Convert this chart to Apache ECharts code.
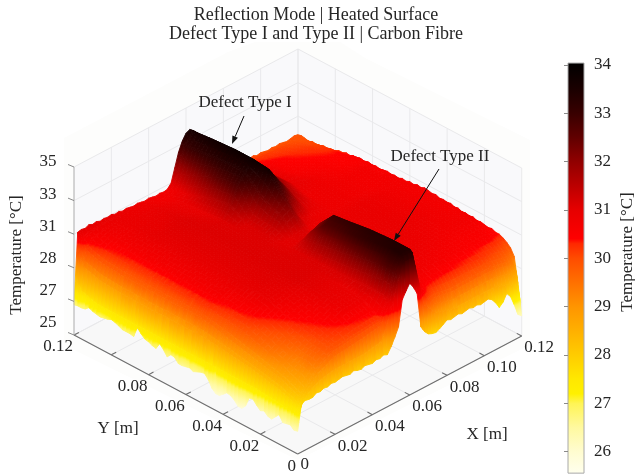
<!DOCTYPE html>
<html>
<head>
<meta charset="utf-8">
<style>html,body{margin:0;padding:0;background:#fff}#c{width:635px;height:474px}</style>
<script src="https://cdn.jsdelivr.net/npm/echarts@6/dist/echarts.min.js"></script>
</head>
<body>
<div id="c"></div>
<script>
// ---- axis tick values and labels
const spanX = 0.12, spanY = 0.12, zBase = 25;
const planarTicks = [0, 0.02, 0.04, 0.06, 0.08, 0.10, 0.12];
const xTickLabels = ['0', '0.02', '0.04', '0.06', '0.08', '0.10', '0.12'];
const yTickLabels = ['0', '0.02', '0.04', '0.06', '0.08', '', '0.12'];
const zTicks = [25, 27, 29, 31, 33, 35];
const zTickLabels = ['25', '27', '28', '31', '33', '35'];

// ---- sample positions of the height field (fractions of the 0.12 m span)
const xSamples = [0, .005, .012, .025, .05, .1, .17, .3, .38, .42, .45, .48, .52, .56, .62, .7, .78, .88, .95, .98, .995, 1];
const ySamples = [0, .005, .01, .02, .05, .1, .2, .3, .36, .42, .46, .5, .55, .6, .65, .72, .8, .9, .97, 1];

// ---- temperature, one row per ySamples entry
const row00 = [26.4,26.9,27.2,27.6,28,28,28.1,28.1,28.1,28.5,30.5,31.6,31.5,29,28.1,28.1,28.2,28.2,27.8,27.6,26.8,26.2];
const row01 = [26.5,27,27.4,27.8,28.2,28.6,28.8,28.8,29,30.5,32,33,33,30,29,28.7,28.7,28.7,28.4,28,27.5,27];
const row02 = [26.6,27.1,27.5,28,28.4,29,29.5,29.7,29.9,31,32.6,33.3,33.3,30.6,29.5,29.2,29.2,29.2,29,28.6,28,27.8];
const row03 = [26.6,27.2,27.7,28.1,28.5,29.2,29.9,30.1,30.2,31.2,32.8,33.4,33.4,30.8,30,29.8,29.8,29.8,29.6,29.3,28.8,28.5];
const row04 = [26.7,27.3,27.9,28.3,28.7,29.4,30,30.4,30.5,31.3,32.8,33.4,33.4,30.9,30.5,30.4,30.3,30.2,30,29.9,29.7,29.9];
const row05 = [26.7,27.4,28.1,28.6,29,29.4,30.1,30.8,30.9,31.3,32.5,33.3,33.4,31,30.8,30.7,30.6,30.5,30.5,30.4,30.4,30.4];
const row06 = [26.7,27.5,28.4,28.9,29.5,29.9,30.4,31,31,31.2,32.2,33.1,33.3,31,30.9,30.9,30.8,30.7,30.7,30.7,30.6,30.6];
const row07 = [26.7,27.5,28.6,29.2,29.9,30.4,30.9,31.1,31.1,31.15,31.9,32.8,33.1,31,30.9,30.9,30.9,30.8,30.7,30.7,30.7,30.7];
const row08 = [26.7,27.5,28.7,29.4,30,30.5,31,31.1,31.1,31.15,31.8,32.7,33,31,30.9,30.9,30.9,30.8,30.7,30.7,30.7,30.7];
const row09 = [26.8,27.5,28.8,29.6,30.1,30.6,31,31.1,31.1,31.1,31.4,31.9,32.1,30.9,30.9,30.9,30.9,30.8,30.7,30.7,30.7,30.7];
const row10 = [26.9,27.5,28.8,29.7,30.2,30.7,31,31.1,31.1,31.05,31.05,31.1,31.1,30.9,30.9,30.9,30.9,30.8,30.7,30.7,30.7,30.7];
const row11 = [26.9,27.5,28.8,29.7,30.2,30.7,31,31.1,31.1,31.05,31.05,31.1,31.2,30.9,30.9,30.9,30.9,30.8,30.7,30.7,30.6,30.6];
const row12 = [26.9,27.5,28.8,29.7,30.2,30.7,31,31.1,31.1,31.15,31.35,31.8,32.1,31.2,30.9,30.8,30.8,30.7,30.7,30.7,30.6,30.6];
const row13 = [26.9,27.5,28.8,29.7,30.2,30.7,31,31.1,31.1,31.15,31.4,32,32.8,32.2,31.2,30.8,30.8,30.7,30.7,30.6,30.6,30.6];
const row14 = [26.9,27.5,28.8,29.7,30.2,30.7,31,31.1,31.1,31.15,31.5,32.4,33.7,32.8,31.6,30.8,30.8,30.7,30.7,30.6,30.6,30.6];
const row15 = [26.9,27.5,28.8,29.7,30.2,30.7,31,31.1,31.1,31.8,32.8,33.3,33.8,33,32,31,30.8,30.6,30.5,30.5,30.5,30.4];
const row16 = [26.8,27.5,28.8,29.7,30.2,30.7,31,31.1,31,31.6,32.6,33.3,33.8,33,32,31,30.6,30.5,30.4,30.4,30.3,30.3];
const row17 = [26.8,27.5,28.9,29.8,30.3,30.7,30.9,31,30.9,31.1,32,33.1,33.7,32.9,31.9,30.8,30.5,30.3,30.2,30.1,30.1,30.1];
const row18 = [26.8,27.8,29.2,30.1,30.6,30.8,30.9,30.85,30.7,30.8,31.6,33,33.6,32.9,31.8,30.5,30.2,30.1,30,29.95,29.95,29.95];
const row19 = [26.8,28.5,30.5,31,31,31,31,30.8,30.7,30.8,31.5,33,33.6,33,31.8,30.4,30,29.9,29.9,29.9,29.9,29.9];
const tempRows = [row00,row01,row02,row03,row04,row05,row06,row07,row08,row09,row10,row11,row12,row13,row14,row15,row16,row17,row18,row19];

// ---- jagged outer edges read at 61 equal steps along each side
const edgeX0 = [26.35,26.3,26.5,26.45,26.4,26.75,26.5,26.25,26.3,26.5,26.4,26.6,26.85,26.8,26.2,25.95,25.95,26.2,26.35,26.4,26.2,26.0,26.0,26.2,26.6,26.85,26.8,26.7,26.6,26.7,26.65,26.6,26.6,26.85,26.9,26.65,26.95,27.2,26.8,26.85,26.95,27.0,27.2,27.45,26.8,26.85,26.85,26.85,26.95,27.05,27.1,27.0,26.95,26.9,26.95,27.0,27.1,26.9,26.85,26.85,26.8];
const edgeY0 = [26.4,27.85,27.95,27.9,27.9,28.05,28.0,28.1,28.05,28.15,28.1,28.15,28.2,28.15,28.1,28.2,28.1,28.05,28.15,28.1,28.05,28.15,28.1,28.2,28.1,28.45,28.9,29.4,30.9,31.3,31.65,31.3,30.8,28.7,28.3,28.05,27.95,27.9,28.0,28.15,28.3,28.2,28.25,28.3,28.2,28.25,28.3,28.2,28.25,28.15,28.2,28.25,28.1,27.8,27.4,27.6,28.0,27.7,27.1,26.4,26.2];
const edgeX1 = [26.2,28.0,29.5,29.9,30.1,30.25,30.35,30.35,30.45,30.4,30.45,30.5,30.45,30.55,30.5,30.55,30.5,30.6,30.55,30.65,30.6,30.65,30.6,30.7,30.65,30.7,30.75,30.65,30.7,30.6,30.65,30.55,30.6,30.5,30.55,30.5,30.55,30.5,30.45,30.5,30.45,30.5,30.4,30.45,30.4,30.4,30.3,30.35,30.25,30.25,30.1,30.1,30.0,30.05,29.95,29.9,29.95,29.85,29.9,29.95,29.9];
const edgeY1 = [26.8,31.0,31.05,31.0,31.1,31.0,31.05,30.95,31.0,30.95,31.0,30.9,30.95,30.85,30.9,30.85,30.8,30.85,30.8,30.75,30.8,30.75,30.7,30.75,30.7,30.75,31.0,31.8,32.6,33.15,33.5,33.6,33.4,33.0,32.7,32.4,32.0,31.7,31.4,31.1,30.8,30.6,30.4,30.3,30.2,30.15,30.1,30.0,30.05,29.95,30.0,29.95,29.9,29.95,29.9,29.95,29.9,29.85,29.9,29.95,29.9];

// ---- colour scale
const colorStops = [
  [25.55,[255,255,238]],[26,[255,252,208]],[26.5,[255,249,160]],[27,[255,244,85]],[27.2,[255,240,0]],[27.5,[255,232,0]],
  [28,[255,204,0]],[28.5,[255,176,0]],[29,[255,149,0]],[29.5,[255,112,0]],[30,[255,76,0]],[30.3,[255,40,0]],
  [30.4,[255,0,0]],[31,[230,0,0]],[31.5,[187,0,0]],[32,[144,0,0]],[32.5,[96,0,0]],[33,[56,0,0]],[33.5,[26,0,0]],[34.04,[0,0,0]]
];
function tempColor(t){
  const s=colorStops;
  if(t<=s[0][0]) return 'rgb('+s[0][1].join(',')+')';
  for(let i=1;i<s.length;i++){
    if(t<=s[i][0]){
      const f=(t-s[i-1][0])/(s[i][0]-s[i-1][0]);
      const c=s[i-1][1].map((a,k)=>Math.round(a+(s[i][1][k]-a)*f));
      return 'rgb('+c.join(',')+')';
    }
  }
  return 'rgb(0,0,0)';
}

// ---- oblique 3D projection onto the hidden page-sized cartesian axes
function project(u,v,z){
  return [297.7+224*u-223.7*v, 454-118*u-119*v-16.8*(z-zBase)];
}
function locate(list,t){
  let i=0; while(i<list.length-2 && t>list[i+1]) i++;
  return [i,(t-list[i])/(list[i+1]-list[i])];
}
function sampled(u,v){
  const [i,a]=locate(xSamples,u),[j,b]=locate(ySamples,v);
  const r0=tempRows[j],r1=tempRows[j+1];
  return (r0[i]*(1-a)+r0[i+1]*a)*(1-b)+(r1[i]*(1-a)+r1[i+1]*a)*b;
}
function edgeAt(arr,t){
  const p=t*60,i=Math.min(59,Math.floor(p));
  return arr[i]*(1-(p-i))+arr[i+1]*(p-i);
}
function surfaceZ(u,v){
  let z=sampled(u,v);
  if(u<.005) z+=(edgeAt(edgeX0,v)-sampled(0,v))*(1-u/.005);
  if(v<.005) z+=(edgeAt(edgeY0,u)-sampled(u,0))*(1-v/.005);
  if(u>.988) z+=(edgeAt(edgeX1,v)-sampled(1,v))*((u-.988)/.012);
  if(v>.988) z+=(edgeAt(edgeY1,u)-sampled(u,1))*((v-.988)/.012);
  return z;
}
// shading mesh: the read samples plus the equal edge steps, drawn far to near
function meshLine(list,extra){
  const s=new Set(list.concat(extra).map(t=>+t.toFixed(5)));
  for(let k=0;k<=60;k++) s.add(+(k/60).toFixed(5));
  return Array.from(s).sort((a,b)=>a-b);
}
const meshU=meshLine(xSamples,[.988]), meshV=meshLine(ySamples,[.988]);
const meshZ=meshV.map(v=>meshU.map(u=>surfaceZ(u,v)));
const cells=[];
for(let j=meshV.length-2;j>=0;j--) for(let i=meshU.length-2;i>=0;i--) cells.push([i,j]);

const SERIF='"Liberation Serif", serif';
const FS=17;
const INK='#262626';
const label=(text,x,y,o)=>Object.assign({text,x,y,size:FS,align:'center',rot:0},o||{});

const labels=[
  label('Reflection Mode | Heated Surface',316,15,{size:18}),
  label('Defect Type I and Type II | Carbon Fibre',316,34,{size:18}),
  label('Defect Type I',245,103,{size:17}),
  label('Defect Type II',440,157,{size:17}),
  label('Y [m]',118,429,{size:17}),
  label('X [m]',487,435,{size:17}),
  label('Temperature [\u00b0C]',17,255,{size:17,rot:Math.PI/2}),
  label('Temperature [\u00b0C]',628,252,{size:17,rot:Math.PI/2})
];
zTickLabels.forEach((t,i)=>labels.push(label(t,48,323-32.2*i)));
planarTicks.forEach((t,i)=>{
  const f=t/spanY, a=project(0,f,zBase), b=project(f,0,zBase);
  const yo=i===0?[-6,13]:[-16,12], xo=i===0?[7,11]:[17.5,12];
  if(yTickLabels[i]) labels.push(label(yTickLabels[i],a[0]+yo[0],a[1]+yo[1]));
  labels.push(label(xTickLabels[i],b[0]+xo[0],b[1]+xo[1]));
});

// box lines as [u0,v0,z0,u1,v1,z1]
const gridLines=[], axisLines=[], wallTop=35;
planarTicks.forEach(t=>{
  const f=t/spanX;
  gridLines.push([f,0,25,f,1,25],[0,f,25,1,f,25],[f,1,25,f,1,wallTop],[1,f,25,1,f,wallTop]);
  if(t>0){
    axisLines.push([f,0,25,f,.022,25],[0,f,25,.022,f,25]);
  }
});
zTicks.forEach(z=>{
  gridLines.push([0,1,z,1,1,z],[1,0,z,1,1,z]);
});
axisLines.push([0,0,25,1,0,25],[0,0,25,0,1,25]);

function coordPts(api,pts){return pts.map(p=>api.coord(p));}

const barLow=25.55, barHigh=34.04;
const barGradient=new echarts.graphic.LinearGradient(0,1,0,0,colorStops.map(s=>({
  offset:(s[0]-barLow)/(barHigh-barLow),color:'rgb('+s[1].join(',')+')'
})));

// colour stops for a gradient running from temperature a to temperature b
function gradientStops(a,b){
  const out=[{offset:0,color:tempColor(a)}];
  colorStops.forEach(s=>{ if(s[0]>a&&s[0]<b) out.push({offset:(s[0]-a)/(b-a),color:tempColor(s[0])}); });
  out.push({offset:1,color:tempColor(b)});
  return out;
}

const option={
  animation:false,
  backgroundColor:'#fff',
  grid:[
    {left:0,top:0,right:0,bottom:0,show:false,outerBoundsMode:'none'},
    {left:568,top:65,width:16,height:434.7,show:false,outerBoundsMode:'none'}
  ],
  xAxis:[
    {gridIndex:0,type:'value',min:0,max:635,show:false},
    {gridIndex:1,type:'value',min:0,max:1,show:false}
  ],
  yAxis:[
    {gridIndex:0,type:'value',min:0,max:474,inverse:true,show:false},
    {gridIndex:1,type:'value',min:25,max:34,interval:1,position:'right',z:10,
     splitLine:{show:false},axisLine:{show:false},
     axisTick:{show:true,inside:true,length:4,lineStyle:{color:'#8a8a8a'}},
     axisLabel:{margin:10,color:INK,fontFamily:SERIF,fontSize:FS,hideOverlap:false}}
  ],
  series:[
    { // walls, floor and faint grid of the 3D box
      type:'custom',coordinateSystem:'cartesian2d',xAxisIndex:0,yAxisIndex:0,silent:true,clip:false,z:1,
      data:[[0]],
      renderItem(p,api){
        const kids=[];
        kids.push({type:'polygon',shape:{points:coordPts(api,[[64,138],[228,52],[255,42],[340,42],[365,58],[530,140],[530,345],[297.7,460],[64,345]])},style:{fill:'#fdfdfc'}});
        const tl=project(0,1,wallTop),tr=project(1,0,wallTop),tb=project(1,1,wallTop);
        const bl=project(0,1,25),br=project(1,0,25),bb=project(1,1,25),bf=project(0,0,25);
        kids.push({type:'polygon',shape:{points:coordPts(api,[tl,tb,bb,bl])},style:{fill:'#f9f9fb'}});
        kids.push({type:'polygon',shape:{points:coordPts(api,[tb,tr,br,bb])},style:{fill:'#f9f9fb'}});
        kids.push({type:'polygon',shape:{points:coordPts(api,[bf,br,bb,bl])},style:{fill:'#f8f8f8'}});
        gridLines.forEach(l=>{
          const a=api.coord(project(l[0],l[1],l[2])),b=api.coord(project(l[3],l[4],l[5]));
          kids.push({type:'line',shape:{x1:a[0],y1:a[1],x2:b[0],y2:b[1]},style:{stroke:'#e9e9eb',lineWidth:1}});
        });
        return {type:'group',children:kids};
      }
    },
    { // the temperature surface: every cell shaded from its coolest to its hottest corner
      type:'custom',coordinateSystem:'cartesian2d',xAxisIndex:0,yAxisIndex:0,silent:true,clip:false,z:2,progressive:0,
      data:cells,
      renderItem(p,api){
        const i=api.value(0),j=api.value(1);
        const corners=[[i,j],[i+1,j],[i+1,j+1],[i,j+1]].map(c=>{
          const z=meshZ[c[1]][c[0]];
          return {z,pt:api.coord(project(meshU[c[0]],meshV[c[1]],z))};
        });
        let lo=corners[0],hi=corners[0];
        corners.forEach(c=>{ if(c.z<lo.z) lo=c; if(c.z>hi.z) hi=c; });
        const pts=corners.map(c=>c.pt);
        let fill;
        if(hi.z-lo.z<.03||(Math.abs(hi.pt[0]-lo.pt[0])+Math.abs(hi.pt[1]-lo.pt[1]))<.5){
          fill=tempColor((hi.z+lo.z)/2);
        }else{
          fill=new echarts.graphic.LinearGradient(lo.pt[0],lo.pt[1],hi.pt[0],hi.pt[1],gradientStops(lo.z,hi.z),true);
        }
        return {type:'polygon',shape:{points:pts},style:{fill,stroke:fill,lineWidth:.9}};
      }
    },
    { // axes, ticks, annotation arrows and all the text
      type:'custom',coordinateSystem:'cartesian2d',xAxisIndex:0,yAxisIndex:0,silent:true,clip:false,z:3,
      data:[[0]],
      renderItem(p,api){
        const kids=[];
        axisLines.forEach(l=>{
          const a=api.coord(project(l[0],l[1],l[2])),b=api.coord(project(l[3],l[4],l[5]));
          kids.push({type:'line',shape:{x1:a[0],y1:a[1],x2:b[0],y2:b[1]},style:{stroke:'#6e6e6e',lineWidth:1.1}});
        });
        const zb=api.coord(project(0,1,25)),zt=api.coord(project(0,1,wallTop));
        kids.push({type:'line',shape:{x1:zb[0],y1:zb[1],x2:zt[0],y2:zt[1]},style:{stroke:'#b4b4b4',lineWidth:1}});
        zTicks.forEach(z=>{
          const a=api.coord(project(0,1,z));
          kids.push({type:'line',shape:{x1:a[0],y1:a[1],x2:a[0]-6,y2:a[1]-2.5},style:{stroke:'#8a8a8a',lineWidth:1}});
        });
        [[244,116,232,144],[439,169,394,241]].forEach(r=>{
          const a=api.coord([r[0],r[1]]),b=api.coord([r[2],r[3]]);
          const ang=Math.atan2(b[1]-a[1],b[0]-a[0]),L=8,W=3;
          const bx=b[0]-L*Math.cos(ang),by=b[1]-L*Math.sin(ang);
          kids.push({type:'line',shape:{x1:a[0],y1:a[1],x2:bx,y2:by},style:{stroke:'#111',lineWidth:1}});
          kids.push({type:'polygon',shape:{points:[[b[0],b[1]],[bx-W*Math.sin(ang),by+W*Math.cos(ang)],[bx+W*Math.sin(ang),by-W*Math.cos(ang)]]},style:{fill:'#111'}});
        });
        labels.forEach(l=>{
          const c=api.coord([l.x,l.y]);
          kids.push({type:'text',x:c[0],y:c[1],rotation:l.rot,
            style:{text:l.text,fill:INK,font:l.size+'px '+SERIF,align:l.align,verticalAlign:'middle'}});
        });
        return {type:'group',children:kids};
      }
    },
    { // colour bar on its own temperature axis
      type:'custom',coordinateSystem:'cartesian2d',xAxisIndex:1,yAxisIndex:1,silent:true,clip:false,z:2,
      data:[[0,barLow]],
      renderItem(p,api){
        const a=api.coord([0,barLow]),b=api.coord([1,barHigh]);
        return {type:'rect',shape:{x:a[0],y:b[1],width:b[0]-a[0],height:a[1]-b[1]},style:{fill:barGradient,stroke:'#a8a8a8',lineWidth:1}};
      }
    }
  ]
};
const chart=echarts.init(document.getElementById('c'),null,{renderer:'canvas'});
chart.setOption(option);
</script>
</body>
</html>
